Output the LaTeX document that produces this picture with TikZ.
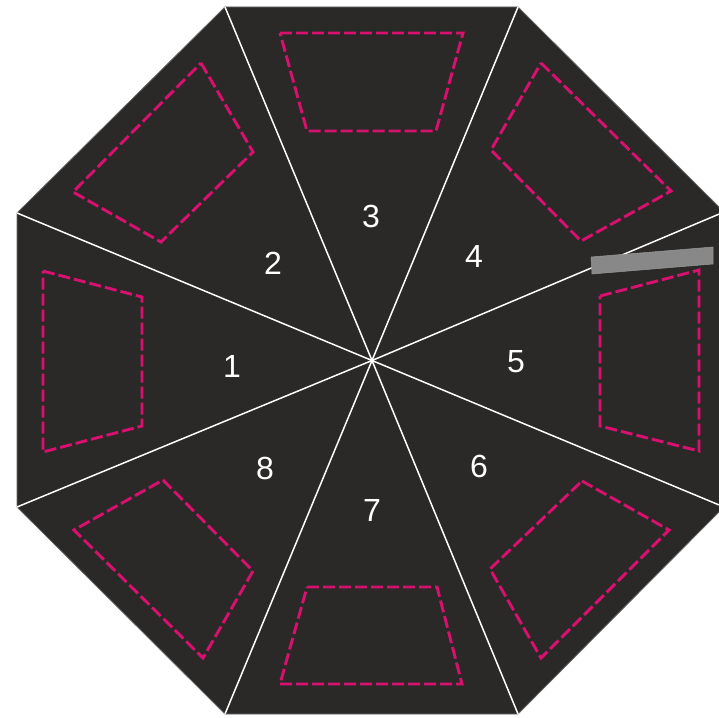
\documentclass[tikz,border=0pt]{standalone}
\usepackage{fontspec}
\setmainfont{Liberation Sans}
\begin{document}
\begin{tikzpicture}[x=1pt,y=-1pt,
  seg/.style={draw=white,line width=1.5pt},
  zone/.style={draw=zonecol,line width=2.9pt,dash pattern=on 12pt off 4pt},
  num/.style={text=white,font=\fontsize{32}{32}\selectfont,inner sep=0pt,anchor=center}]
\definecolor{bg}{HTML}{2B2928}
\definecolor{zonecol}{HTML}{D8106E}
\definecolor{barcol}{HTML}{888888}
\useasboundingbox (0,0) rectangle (719,717);
\clip (0,0) rectangle (719,717);
% octagon vertices
\coordinate (c) at (372,360.5);
\coordinate (v1) at (225,7);
\coordinate (v2) at (518,7);
\coordinate (v3) at (724,212);
\coordinate (v4) at (724,507);
\coordinate (v5) at (518,714);
\coordinate (v6) at (225,714);
\coordinate (v7) at (17,507);
\coordinate (v8) at (17,213);
\fill[bg,draw=black!60,line width=0.8pt] (v1)--(v2)--(v3)--(v4)--(v5)--(v6)--(v7)--(v8)--cycle;
\foreach \v in {v1,v2,v3,v4,v5,v6,v7,v8}{\draw[seg] (c) -- (\v);}
% dashed zones
\draw[zone] (280,33) -- (463,33) -- (436,131) -- (307,131) -- cycle;
\draw[zone] (307,587) -- (437,587) -- (462,684) -- (280,684) -- cycle;
\draw[zone] (43,271) -- (142,297) -- (142,426) -- (43,452) -- cycle;
\draw[zone] (600,296) -- (699,270) -- (699,451) -- (600,426) -- cycle;
\draw[zone] (201,63) -- (253,152) -- (161,242) -- (73,192) -- cycle;
\draw[zone] (541,63) -- (671,191) -- (581,241) -- (491,150) -- cycle;
\draw[zone] (582,481) -- (669,530) -- (541,658) -- (490,569) -- cycle;
\draw[zone] (163,480) -- (253,571) -- (203,658) -- (74,530) -- cycle;
% grey bar
\fill[barcol,draw=black!40,line width=0.5pt] (591,257) -- (713,247) -- (713,264) -- (592,274) -- cycle;
% labels
\node[num] (n1) at (232,366) {1};
\node[num] (n2) at (273,263) {2};
\node[num] (n3) at (371,216) {3};
\node[num] (n4) at (474,256) {4};
\node[num] (n5) at (516,362) {5};
\node[num] (n6) at (479,466) {6};
\node[num] (n7) at (372,510) {7};
\node[num] (n8) at (265,468) {8};
\end{tikzpicture}
\end{document}
